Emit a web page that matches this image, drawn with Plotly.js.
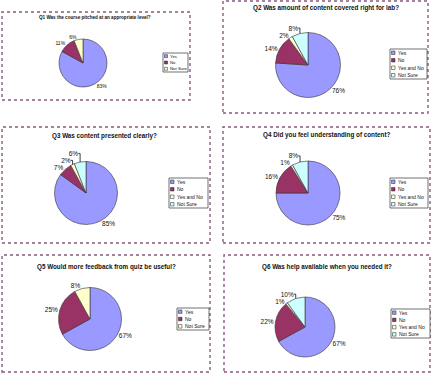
<!DOCTYPE html>
<html>
<head>
<meta charset="utf-8">
<script src="https://cdn.plot.ly/plotly-3.0.1.min.js"></script>
<style>html,body{margin:0;padding:0;background:#fff;}#chart{width:434px;height:373px;}</style>
</head>
<body>
<div id="chart"></div>
<script>
// ---- data ----
const titles = [
  "Q1 Was the course pitched at an appropriate level?",
  "Q2 Was amount of content covered right for lab?",
  "Q3 Was content presented clearly?",
  "Q4 Did you feel understanding of content?",
  "Q5 Would more feedback from quiz be useful?",
  "Q6 Was help available when you needed it?"
];
const labels3 = ["Yes", "No", "Not Sure"];
const labels4 = ["Yes", "No", "Yes and No", "Not Sure"];
const q1Values = [83, 11, 6];
const q2Values = [76, 14, 2, 8];
const q3Values = [85, 7, 2, 6];
const q4Values = [75, 16, 1, 8];
const q5Values = [67, 25, 8];
const q6Values = [67, 22, 1, 10];
const colors3 = ["#9999FF", "#993366", "#FFFFCC"];
const colors4 = ["#9999FF", "#993366", "#FFFFCC", "#CCFFFF"];

// ---- layout helpers (pixels) ----
const W = 434, H = 373;
const panels = [
  {box:[2,12,190,100],  c:[83,63],  r:24,   t:[95,17],  tf:4.6, lg:[163,53,188,72],  lab:labels3, val:q1Values, col:colors3},
  {box:[223,1,428,113], c:[308,65], r:32.5, t:[326,8],  tf:6.3, lg:[390,49,427,79],  lab:labels4, val:q2Values, col:colors4},
  {box:[2,127,210,243], c:[86,193], r:31.5, t:[104,136],tf:6.3, lg:[169,178,208,208],lab:labels4, val:q3Values, col:colors4},
  {box:[223,127,430,243],c:[308,193],r:32,  t:[326,135],tf:6.3, lg:[390,178,428,208],lab:labels4, val:q4Values, col:colors4},
  {box:[2,255,210,372], c:[90,319], r:31.5, t:[106,267],tf:6.3, lg:[177,308,209,330],lab:labels3, val:q5Values, col:colors3},
  {box:[224,255,430,372],c:[305,327],r:30,  t:[327,267],tf:6.3, lg:[391,309,430,338],lab:labels4, val:q6Values, col:colors4}
];
const fx = px => px / W;
const fy = py => 1 - py / H;

const traces = [], shapes = [], annotations = [];
panels.forEach((p, i) => {
  traces.push({
    type: 'pie',
    labels: p.lab,
    values: p.val,
    sort: false,
    direction: 'clockwise',
    rotation: 0,
    marker: {colors: p.col, line: {color: '#333', width: 0.6}},
    textposition: 'outside',
    texttemplate: '%{percent:.0%}',
    textfont: {family: 'Liberation Sans, Arial', size: i === 0 ? 5 : 6.5, color: '#111'},
    showlegend: false,
    hoverinfo: 'label+percent',
    domain: {x: [fx(p.c[0] - p.r), fx(p.c[0] + p.r)], y: [fy(p.c[1] + p.r), fy(p.c[1] - p.r)]}
  });
  // panel border
  shapes.push({type: 'rect', xref: 'paper', yref: 'paper',
    x0: fx(p.box[0]), x1: fx(p.box[2]), y0: fy(p.box[3]), y1: fy(p.box[1]),
    line: {color: '#8a5a80', width: 1.4, dash: 'dot'}});
  // title
  annotations.push({xref: 'paper', yref: 'paper', x: fx(p.t[0]), y: fy(p.t[1]),
    text: '<b>' + titles[i] + '</b>', showarrow: false, xanchor: 'center', yanchor: 'middle',
    font: {family: 'Liberation Sans, Arial', size: p.tf, color: '#111'}});
  // legend box
  const [lx0, ly0, lx1, ly1] = p.lg;
  shapes.push({type: 'rect', xref: 'paper', yref: 'paper',
    x0: fx(lx0), x1: fx(lx1), y0: fy(ly1), y1: fy(ly0),
    line: {color: '#333', width: 0.7}, fillcolor: '#fff'});
  const n = p.lab.length;
  const step = (ly1 - ly0) / n;
  const sw = i === 0 ? 3 : 3.5;
  p.lab.forEach((lab, k) => {
    const cy = ly0 + step * (k + 0.5);
    shapes.push({type: 'rect', xref: 'paper', yref: 'paper',
      x0: fx(lx0 + 1.5), x1: fx(lx0 + 1.5 + sw), y0: fy(cy + sw / 2), y1: fy(cy - sw / 2),
      line: {color: '#222', width: 0.5}, fillcolor: p.col[k]});
    annotations.push({xref: 'paper', yref: 'paper', x: fx(lx0 + 2 + sw), y: fy(cy),
      text: lab, showarrow: false, xanchor: 'left', yanchor: 'middle',
      font: {family: 'Liberation Sans, Arial', size: i === 0 ? 4.3 : 5, color: '#111'}});
  });
});

Plotly.newPlot('chart', traces, {
  width: W, height: H,
  margin: {l: 0, r: 0, t: 0, b: 0},
  paper_bgcolor: '#fff',
  showlegend: false,
  shapes: shapes,
  annotations: annotations
}, {displayModeBar: false, staticPlot: true});
</script>
</body>
</html>
